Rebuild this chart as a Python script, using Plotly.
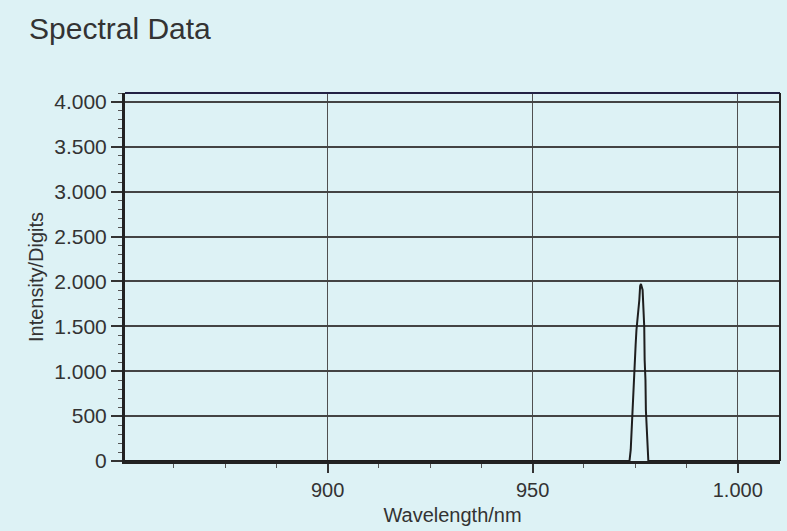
import plotly.graph_objects as go

# ---- data ----
wavelength_nm = [850.6, 973.6, 973.9, 974.1, 974.4, 974.6, 974.8, 975.1, 975.3, 975.7,
                 976.0, 976.2, 976.4, 976.8, 977.0, 977.2, 977.3, 977.5, 977.6, 977.8,
                 978.0, 978.2, 1010.3]
intensity = [0, 0, 123, 345, 568, 847, 1070, 1292, 1460, 1627,
             1794, 1950, 1972, 1905, 1760, 1493, 1125, 903, 568, 345,
             67, 0, 0]

x_tickvals = [900, 950, 1000]
x_ticktext = ["900", "950", "1.000"]
y_tickvals = [0, 500, 1000, 1500, 2000, 2500, 3000, 3500, 4000]
y_ticktext = ["0", "500", "1.000", "1.500", "2.000", "2.500", "3.000", "3.500", "4.000"]

BG = "#ddf2f5"
INK = "#333333"
FONT = "Liberation Sans, Arial, sans-serif"

fig = go.Figure()
fig.add_trace(go.Scatter(
    x=wavelength_nm, y=intensity, mode="lines",
    line=dict(color="#1e1e1e", width=2), showlegend=False, hoverinfo="skip"))

fig.update_layout(
    width=787, height=531,
    paper_bgcolor=BG, plot_bgcolor=BG,
    margin=dict(l=125, r=7, t=93, b=70, autoexpand=False),
    font=dict(family=FONT, color=INK, size=20),
    title=dict(text="Spectral Data", x=29/787, xref="container", xanchor="left",
               y=1-28/531, yref="container", yanchor="middle",
               font=dict(size=30, color=INK, family=FONT)),
)

fig.update_xaxes(
    range=[850.6, 1010.3], tickvals=x_tickvals, ticktext=x_ticktext,
    showgrid=True, gridcolor="#505050", gridwidth=1.3,
    showline=True, linecolor="#222222", linewidth=3,
    ticks="outside", ticklen=9, tickwidth=1.5, tickcolor="#333333",
    minor=dict(dtick=12.5, tick0=900, ticks="outside", ticklen=4, tickwidth=1,
               tickcolor="#555555", showgrid=False),
    tickfont=dict(size=20, color=INK),
    title=dict(text="Wavelength/nm", font=dict(size=20, color=INK), standoff=8),
    zeroline=False,
)
fig.update_yaxes(
    range=[0, 4100], tickvals=y_tickvals, ticktext=y_ticktext,
    showgrid=True, gridcolor="#444444", gridwidth=1.7,
    showline=True, linecolor="#222222", linewidth=3,
    ticks="outside", ticklen=11, tickwidth=1.5, tickcolor="#333333",
    minor=dict(dtick=100, tick0=0, ticks="outside", ticklen=4, tickwidth=1,
               tickcolor="#555555", showgrid=False),
    tickfont=dict(size=21, color=INK),
    title=dict(text="Intensity/Digits", font=dict(size=20, color=INK), standoff=6),
    zeroline=False,
)

# top and right frame lines
fig.add_shape(type="line", xref="paper", yref="paper", x0=0, x1=1, y0=1, y1=1,
              line=dict(color="#222244", width=2))
fig.add_shape(type="line", xref="paper", yref="paper", x0=1, x1=1, y0=0, y1=1,
              line=dict(color="#222222", width=2))

fig.write_html("out.html")
